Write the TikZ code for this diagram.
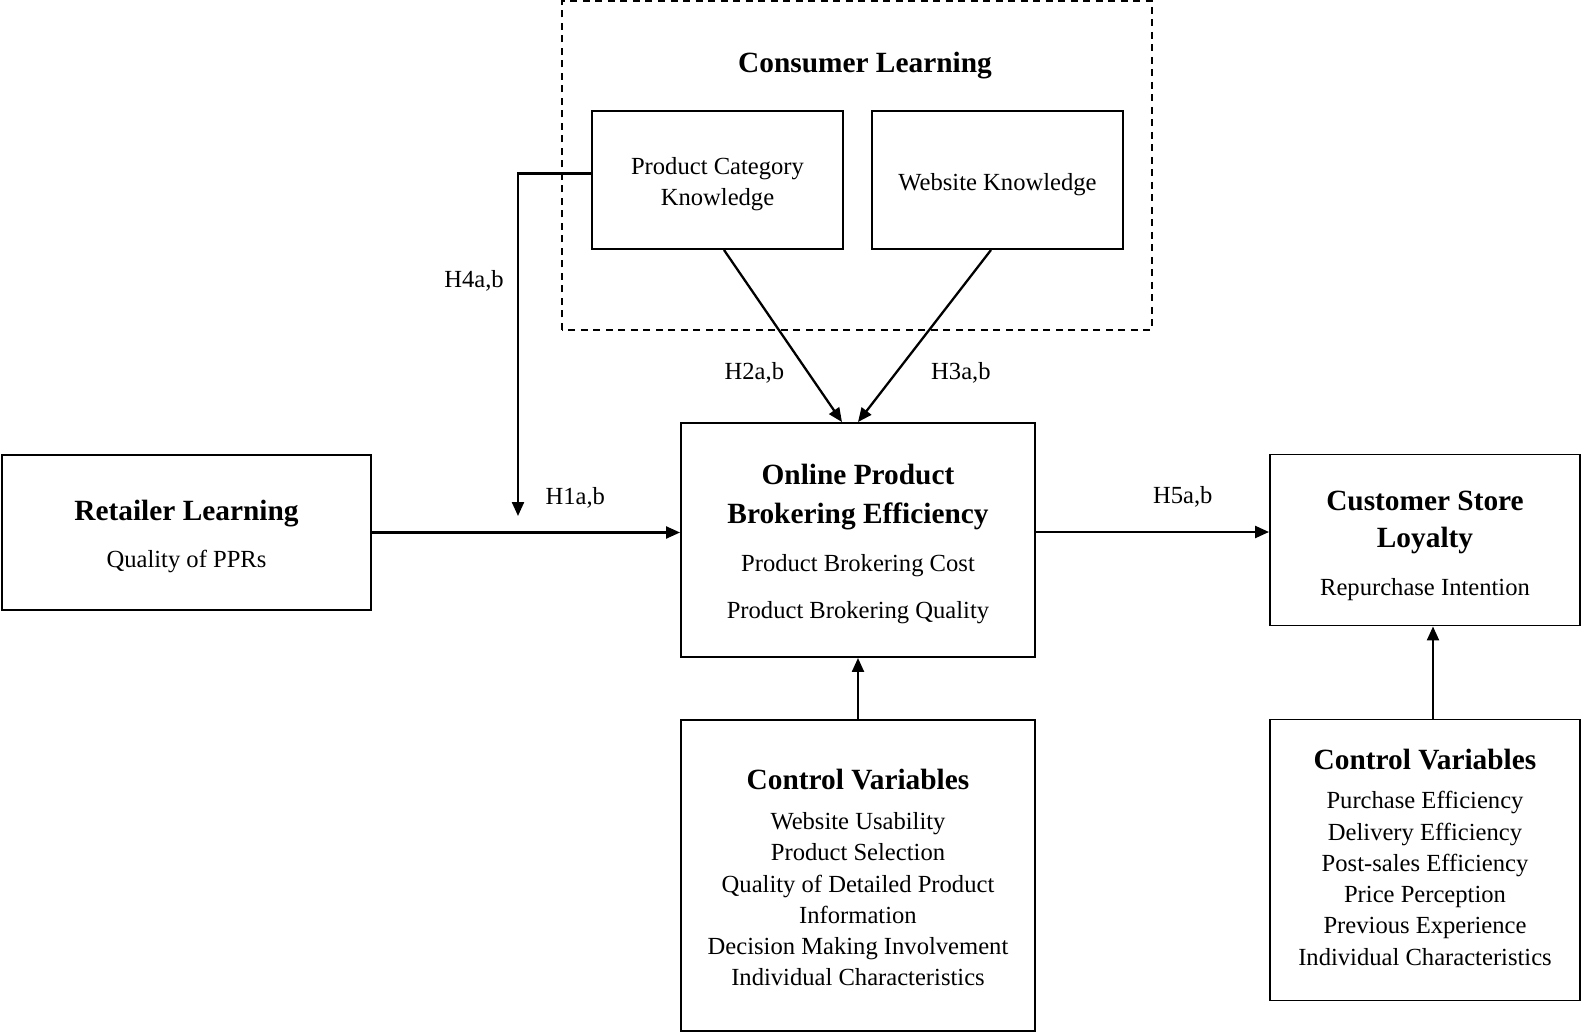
\documentclass[tikz,border=0pt]{standalone}
\usepackage{fontspec}
\setmainfont{Liberation Serif}
\usetikzlibrary{arrows.meta}
\newcommand\hdfont{\fontsize{16.7}{21.5}\selectfont\bfseries}
\newcommand\bdfont{\fontsize{14}{17.8}\selectfont}
\tikzstyle{block} = [rectangle, draw=black, line width=1.1pt, text centered, align=center, inner sep=0pt, font=\bdfont]
\tikzstyle{hyplabel} = [font=\bdfont, inner sep=0pt]
\tikzstyle{arrow} = [line width=1.3pt, -{Triangle[length=0.28cm, width=0.24cm]}]

\begin{document}
\begin{tikzpicture}[node distance=6.7cm]

        % canvas
        \useasboundingbox (-17.16,-9.84) rectangle (14.46,10.8);

        % Main boxes
        \node (online) [block, minimum width=7.08cm, minimum height=4.68cm] {\rule{0pt}{0.58cm}{\hdfont Online Product}\\[0.14cm]{\hdfont Brokering Efficiency}\\[0.34cm] Product Brokering Cost\\[0.32cm] Product Brokering Quality};
        \node (retailer) [block, left of=online, node distance=13.43cm, yshift=0.15cm, minimum width=7.38cm, minimum height=3.1cm] {\rule{0pt}{0.56cm}{\hdfont Retailer Learning}\\[0.32cm] Quality of PPRs};
        \node (customer) [block, right of=online, node distance=11.34cm, minimum width=6.2cm, minimum height=3.42cm] {\rule{0pt}{0.62cm}{\hdfont Customer Store}\\[0.12cm]{\hdfont Loyalty}\\[0.34cm] Repurchase Intention};

        % Control variables (below)
        \node (ctrlA) [block, below of=online, node distance=6.71cm, minimum width=7.08cm, minimum height=6.22cm] {\rule{0pt}{0.5cm}{\hdfont Control Variables}\\[0.17cm] Website Usability\\ Product Selection\\ Quality of Detailed Product\\ Information\\ Decision Making Involvement\\ Individual Characteristics};
        \node (ctrlB) [block, below of=customer, node distance=6.4cm, minimum width=6.2cm, minimum height=5.62cm] {{\hdfont Control Variables}\\[0.17cm] Purchase Efficiency\\ Delivery Efficiency\\ Post-sales Efficiency\\ Price Perception\\ Previous Experience\\ Individual Characteristics\rule[-0.12cm]{0pt}{0pt}};

        % Consumer learning (above)
        \node (pck) [block, above of=online, node distance=7.2cm, xshift=-2.81cm, minimum width=5.02cm, minimum height=2.76cm] {\rule{0pt}{0.5cm}Product Category\\ Knowledge};
        \node (wk) [block, right of=pck, node distance=5.6cm, minimum width=5.02cm, minimum height=2.76cm] {\rule{0pt}{0.54cm}Website Knowledge};
        \node (consumer) [hyplabel, above of=online, node distance=9.49cm, xshift=0.14cm, font=\hdfont] {Consumer Learning};
        \draw [line width=1.1pt, dash pattern=on 0.14cm off 0.11cm] (-5.92,4.2) rectangle (5.88,10.78);

        % Moderator end point
        \coordinate (h4end) at (-6.8,0.48);

        % Arrows into online brokering
        \draw [arrow] (retailer.east) -- node[hyplabel, pos=0.66, yshift=0.7cm] {H1a,b} (retailer.east -| online.west);
        \draw [arrow] ([xshift=0.13cm]pck.south) -- node[hyplabel, pos=0.715, xshift=-1.08cm] {H2a,b} ([xshift=-0.32cm]online.north);
        \draw [arrow] ([xshift=-0.13cm]wk.south) -- node[hyplabel, pos=0.715, xshift=1.3cm] {H3a,b} (online.north);
        \draw [arrow] ([yshift=0.13cm]pck.west) -| node[hyplabel, pos=0.65, xshift=-0.88cm, yshift=-0.1cm] {H4a,b} (h4end);

        % Arrow to loyalty
        \draw [arrow] ([yshift=0.16cm]online.east) -- node[hyplabel, pos=0.63, yshift=0.7cm] {H5a,b} ([yshift=0.16cm]online.east -| customer.west);

        % Control arrows
        \draw [arrow] (ctrlA.north) -- (online.south);
        \draw [arrow] ([xshift=0.16cm]ctrlB.north) -- ([xshift=0.16cm]customer.south);

    \end{tikzpicture}
\end{document}
